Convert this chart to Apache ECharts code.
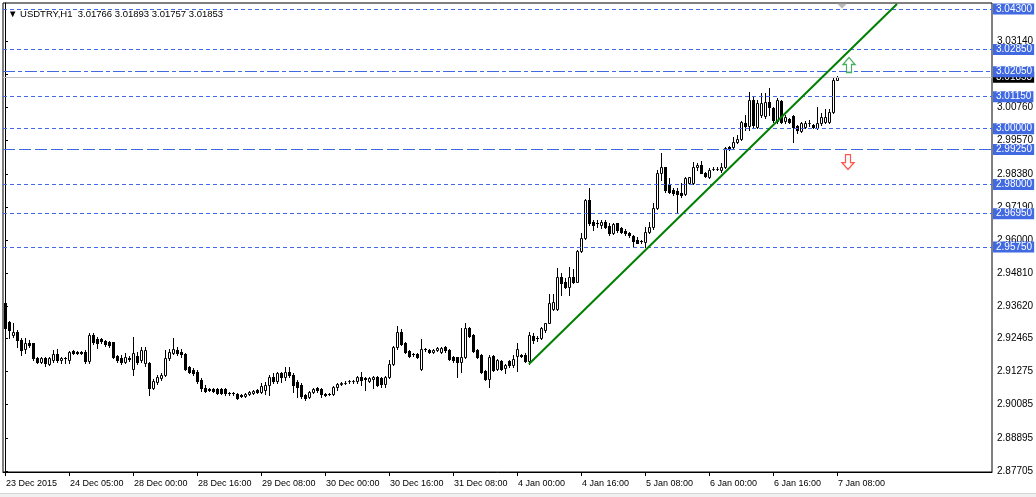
<!DOCTYPE html>
<html>
<head>
<meta charset="utf-8">
<script src="https://cdn.jsdelivr.net/npm/echarts@6/dist/echarts.min.js"></script>
<style>html,body{margin:0;padding:0;background:#fff}#c{width:1036px;height:497px}</style>
</head>
<body>
<div id="c"></div>
<script>
// ---- data ----
const symbolName = 'USDTRY,H1';
// [open, close, low, high] per hourly bar
const candles = [
[2.9374,2.9285,2.9277,2.9385],[2.9306,2.9277,2.9249,2.9310],[2.9259,2.9270,2.9252,2.9302],[2.9270,2.9242,2.9216,2.9277],
[2.9242,2.9206,2.9188,2.9249],[2.9209,2.9231,2.9195,2.9249],[2.9231,2.9224,2.9216,2.9242],[2.9231,2.9177,2.9170,2.9231],
[2.9177,2.9162,2.9159,2.9180],[2.9162,2.9177,2.9159,2.9180],[2.9177,2.9159,2.9148,2.9180],[2.9155,2.9177,2.9152,2.9180],
[2.9170,2.9191,2.9162,2.9206],[2.9191,2.9170,2.9162,2.9209],[2.9170,2.9177,2.9159,2.9180],[2.9177,2.9175,2.9159,2.9180],
[2.9170,2.9198,2.9159,2.9202],[2.9202,2.9195,2.9191,2.9206],[2.9198,2.9195,2.9191,2.9202],[2.9198,2.9195,2.9191,2.9202],
[2.9198,2.9166,2.9159,2.9206],[2.9166,2.9259,2.9159,2.9267],[2.9259,2.9234,2.9227,2.9267],[2.9245,2.9231,2.9213,2.9252],
[2.9245,2.9238,2.9231,2.9249],[2.9238,2.9227,2.9220,2.9242],[2.9234,2.9224,2.9216,2.9238],[2.9234,2.9180,2.9177,2.9234],
[2.9184,2.9170,2.9162,2.9188],[2.9177,2.9162,2.9155,2.9188],[2.9162,2.9180,2.9159,2.9195],[2.9177,2.9173,2.9166,2.9184],
[2.9137,2.9195,2.9116,2.9252],[2.9184,2.9162,2.9155,2.9198],[2.9170,2.9206,2.9162,2.9216],[2.9159,2.9206,2.9148,2.9216],
[2.9159,2.9069,2.9044,2.9162],[2.9069,2.9094,2.9065,2.9101],[2.9091,2.9109,2.9083,2.9116],[2.9105,2.9116,2.9098,2.9123],
[2.9116,2.9177,2.9112,2.9206],[2.9177,2.9198,2.9170,2.9209],[2.9195,2.9209,2.9191,2.9249],[2.9206,2.9195,2.9188,2.9216],
[2.9198,2.9191,2.9180,2.9209],[2.9191,2.9137,2.9134,2.9195],[2.9145,2.9127,2.9123,2.9148],[2.9134,2.9123,2.9116,2.9141],
[2.9127,2.9094,2.9087,2.9134],[2.9098,2.9069,2.9058,2.9105],[2.9069,2.9058,2.9055,2.9080],[2.9065,2.9062,2.9058,2.9069],
[2.9065,2.9058,2.9055,2.9069],[2.9065,2.9051,2.9047,2.9069],[2.9065,2.9051,2.9047,2.9069],[2.9065,2.9051,2.9044,2.9069],
[2.9051,2.9049,2.9044,2.9055],[2.9051,2.9049,2.9044,2.9055],[2.9047,2.9033,2.9029,2.9051],[2.9044,2.9040,2.9037,2.9047],
[2.9040,2.9047,2.9037,2.9051],[2.9047,2.9055,2.9044,2.9058],[2.9051,2.9058,2.9047,2.9062],[2.9062,2.9055,2.9051,2.9065],
[2.9055,2.9076,2.9051,2.9087],[2.9062,2.9080,2.9047,2.9091],[2.9080,2.9109,2.9044,2.9116],[2.9109,2.9094,2.9087,2.9123],
[2.9094,2.9123,2.9087,2.9127],[2.9123,2.9109,2.9091,2.9127],[2.9109,2.9127,2.9098,2.9145],[2.9127,2.9116,2.9109,2.9145],
[2.9116,2.9080,2.9055,2.9123],[2.9091,2.9073,2.9037,2.9098],[2.9080,2.9040,2.9033,2.9087],[2.9044,2.9033,2.9026,2.9047],
[2.9037,2.9055,2.9033,2.9058],[2.9055,2.9065,2.9051,2.9069],[2.9069,2.9062,2.9055,2.9073],[2.9065,2.9047,2.9037,2.9069],
[2.9047,2.9044,2.9040,2.9049],[2.9047,2.9046,2.9044,2.9049],[2.9047,2.9073,2.9044,2.9076],[2.9073,2.9083,2.9062,2.9087],
[2.9083,2.9085,2.9080,2.9091],[2.9087,2.9088,2.9083,2.9094],[2.9094,2.9095,2.9087,2.9098],[2.9093,2.9094,2.9087,2.9098],
[2.9094,2.9109,2.9087,2.9112],[2.9109,2.9098,2.9080,2.9127],[2.9103,2.9102,2.9062,2.9109],[2.9094,2.9105,2.9091,2.9109],
[2.9101,2.9109,2.9069,2.9112],[2.9109,2.9080,2.9076,2.9112],[2.9105,2.9083,2.9073,2.9109],[2.9083,2.9109,2.9073,2.9112],
[2.9109,2.9155,2.9105,2.9170],[2.9155,2.9216,2.9152,2.9220],[2.9216,2.9270,2.9209,2.9292],[2.9270,2.9227,2.9224,2.9281],
[2.9231,2.9198,2.9195,2.9234],[2.9202,2.9184,2.9180,2.9206],[2.9191,2.9189,2.9184,2.9195],[2.9191,2.9180,2.9177,2.9195],
[2.9137,2.9209,2.9134,2.9245],[2.9209,2.9208,2.9202,2.9213],[2.9206,2.9198,2.9195,2.9209],[2.9198,2.9206,2.9195,2.9209],
[2.9206,2.9213,2.9202,2.9216],[2.9198,2.9213,2.9195,2.9216],[2.9216,2.9206,2.9198,2.9220],[2.9206,2.9173,2.9170,2.9209],
[2.9180,2.9170,2.9162,2.9184],[2.9180,2.9162,2.9109,2.9180],[2.9162,2.9180,2.9127,2.9285],[2.9180,2.9285,2.9177,2.9302],
[2.9285,2.9256,2.9252,2.9288],[2.9259,2.9202,2.9198,2.9263],[2.9206,2.9180,2.9177,2.9209],[2.9188,2.9127,2.9123,2.9191],
[2.9130,2.9101,2.9098,2.9134],[2.9101,2.9180,2.9073,2.9188],[2.9184,2.9134,2.9130,2.9188],[2.9137,2.9170,2.9134,2.9173],
[2.9166,2.9137,2.9134,2.9170],[2.9141,2.9152,2.9123,2.9155],[2.9166,2.9152,2.9145,2.9170],[2.9152,2.9173,2.9145,2.9188],
[2.9184,2.9209,2.9130,2.9231],[2.9188,2.9184,2.9180,2.9191],[2.9188,2.9166,2.9162,2.9195],[2.9166,2.9259,2.9155,2.9270],
[2.9256,2.9242,2.9231,2.9267],[2.9249,2.9247,2.9238,2.9256],[2.9249,2.9285,2.9245,2.9288],[2.9277,2.9302,2.9270,2.9302],
[2.9302,2.9374,2.9302,2.9407],[2.9353,2.9378,2.9349,2.9407],[2.9353,2.9467,2.9349,2.9500],[2.9467,2.9446,2.9403,2.9482],
[2.9450,2.9432,2.9428,2.9464],[2.9432,2.9467,2.9403,2.9503],[2.9467,2.9450,2.9446,2.9496],[2.9450,2.9561,2.9450,2.9565],
[2.9561,2.9608,2.9557,2.9626],[2.9608,2.9744,2.9604,2.9748],[2.9744,2.9661,2.9654,2.9787],[2.9665,2.9654,2.9636,2.9672],
[2.9662,2.9661,2.9647,2.9672],[2.9654,2.9665,2.9644,2.9672],[2.9665,2.9647,2.9644,2.9672],[2.9651,2.9626,2.9618,2.9661],
[2.9626,2.9658,2.9622,2.9661],[2.9661,2.9636,2.9629,2.9661],[2.9643,2.9629,2.9626,2.9647],[2.9633,2.9626,2.9618,2.9640],
[2.9626,2.9618,2.9611,2.9629],[2.9615,2.9597,2.9575,2.9618],[2.9600,2.9590,2.9590,2.9611],[2.9597,2.9595,2.9590,2.9600],
[2.9593,2.9629,2.9575,2.9647],[2.9629,2.9647,2.9626,2.9665],[2.9647,2.9715,2.9640,2.9733],[2.9715,2.9841,2.9711,2.9852],
[2.9841,2.9862,2.9816,2.9913],[2.9862,2.9780,2.9773,2.9862],[2.9798,2.9773,2.9769,2.9823],[2.9780,2.9769,2.9762,2.9787],
[2.9776,2.9766,2.9697,2.9787],[2.9769,2.9762,2.9755,2.9805],[2.9766,2.9823,2.9762,2.9827],[2.9805,2.9827,2.9802,2.9827],
[2.9805,2.9862,2.9802,2.9880],[2.9862,2.9870,2.9852,2.9877],[2.9870,2.9841,2.9841,2.9884],[2.9841,2.9830,2.9827,2.9844],
[2.9827,2.9852,2.9823,2.9859],[2.9855,2.9856,2.9852,2.9862],[2.9856,2.9857,2.9852,2.9862],[2.9852,2.9862,2.9844,2.9877],
[2.9862,2.9931,2.9859,2.9934],[2.9934,2.9931,2.9924,2.9938],[2.9934,2.9952,2.9931,2.9970],[2.9952,2.9963,2.9948,2.9977],
[2.9963,3.0024,2.9959,3.0028],[3.0020,3.0010,2.9995,3.0049],[3.0010,3.0103,2.9995,3.0132],[3.0103,3.0013,3.0006,3.0114],
[3.0006,3.0092,3.0002,3.0103],[3.0049,3.0092,3.0042,3.0128],[3.0046,3.0096,3.0038,3.0128],[3.0096,3.0078,3.0049,3.0146],
[3.0074,3.0031,3.0024,3.0078],[3.0028,3.0103,3.0020,3.0110],[3.0099,3.0024,3.0020,3.0103],[3.0028,3.0042,3.0020,3.0049],
[3.0035,3.0024,3.0020,3.0038],[3.0046,3.0006,2.9952,3.0049],[3.0010,2.9995,2.9984,3.0013],[2.9992,3.0020,2.9988,3.0024],
[3.0006,3.0020,3.0002,3.0028],[3.0020,3.0021,3.0010,3.0031],[3.0013,3.0006,3.0002,3.0017],[3.0002,3.0020,2.9999,3.0078],
[3.0020,3.0042,3.0013,3.0056],[3.0024,3.0042,3.0020,3.0071],[3.0024,3.0060,3.0020,3.0071],[3.0060,3.0175,3.0056,3.0182],
[3.01766,3.01853,3.01757,3.01893]
];
// x-axis tick labels every 16 bars
const tickIndex = [0,16,32,48,64,80,96,112,128,144,160,176,192,208];
const tickLabels = ['23 Dec 2015','24 Dec 05:00','28 Dec 00:00','28 Dec 16:00','29 Dec 08:00','30 Dec 00:00','30 Dec 16:00','31 Dec 08:00','4 Jan 00:00','4 Jan 16:00','5 Jan 08:00','6 Jan 00:00','6 Jan 16:00','7 Jan 08:00'];
// price scale tick labels
const priceTicks = [2.87705,2.88895,2.90085,2.91275,2.92465,2.93620,2.94810,2.96000,2.97190,2.98380,2.99570,3.00760,3.01950,3.03140];
// horizontal level lines and their styles
const levels = [3.04300,3.02850,3.02050,3.01150,3.00000,2.99250,2.98000,2.96950,2.95750];
const levelStyles = ['dot','dot','dashdot','dot','dot','dash','dot','dot','dot'];
// trend line anchors [bar index, price]
const trendPoints = [[131,2.9155],[223,3.0448]];
// signal arrows [bar index, price]
const upArrow = [[211,3.0229]];
const downArrow = [[210.75,2.9880]];
const shiftMarker = [[209.25,3.04516]];
const priceMin = 2.87669, priceMax = 3.04516;
const barMin = -0.5, barMax = 246.75;

// ---- chart ----
const FONT = '"Liberation Sans", Arial, sans-serif';
const last = candles[candles.length - 1];
const dashMap = {dot:[4,3], dash:[12,4], dashdot:[12,3,4,3]};
const BLUE = '#4169e1';

function renderCandle(params, api) {
  const i = api.value(0), o = api.value(1), c = api.value(2), l = api.value(3), h = api.value(4);
  const x = Math.round(api.coord([i, o])[0]);
  const yO = Math.round(api.coord([i, o])[1]);
  const yC = Math.round(api.coord([i, c])[1]);
  const yL = Math.round(api.coord([i, l])[1]);
  const yH = Math.round(api.coord([i, h])[1]);
  const top = Math.min(yO, yC), bot = Math.max(yO, yC);
  const children = [{
    type: 'line',
    shape: {x1: x + 0.5, y1: yH, x2: x + 0.5, y2: yL + 1},
    style: {stroke: '#000', lineWidth: 1}
  }];
  if (c >= o) {
    children.push({type: 'rect', shape: {x: x - 0.5, y: top + 0.5, width: 2, height: bot - top},
      style: {fill: '#fff', stroke: '#000', lineWidth: 1}});
  } else {
    children.push({type: 'rect', shape: {x: x - 1, y: top, width: 3, height: Math.max(1, bot - top + 1)},
      style: {fill: '#000'}});
  }
  return {type: 'group', children: children};
}

const arrowUpPath = 'path://M6,0 L12,7 L8.5,7 L8.5,15 L3.5,15 L3.5,7 L0,7 Z';
const arrowDownPath = 'path://M3.5,0 L8.5,0 L8.5,8 L12,8 L6,15 L0,8 L3.5,8 Z';

const chart = echarts.init(document.getElementById('c'), null, {renderer: 'canvas'});
chart.setOption({
  animation: false,
  backgroundColor: '#fff',
  title: {
    text: '▼ ' + symbolName + '  ' + [last[0], last[3], last[2], last[1]].map(v => v.toFixed(5)).join(' '),
    left: 3, top: 4,
    textStyle: {fontFamily: FONT, fontSize: 9.5, fontWeight: 'normal', color: '#000'}
  },
  graphic: [
    {type: 'rect', silent: true, z: -10, shape: {x: 0, y: 493, width: 1036, height: 4}, style: {fill: '#f0f0f0'}},
    {type: 'line', silent: true, z: -9, shape: {x1: 0, y1: 493.5, x2: 1036, y2: 493.5}, style: {stroke: '#d6d6d6', lineWidth: 1}}
  ],
  grid: {left: 3, right: 44, top: 3, bottom: 25, show: true, borderColor: '#000', borderWidth: 1,
    backgroundColor: '#fff', containLabel: false, outerBoundsMode: 'none'},
  xAxis: {
    type: 'value', min: barMin, max: barMax,
    axisLine: {show: true, lineStyle: {color: '#000'}},
    axisTick: {show: true, length: 4, customValues: tickIndex, lineStyle: {color: '#000'}},
    axisLabel: {customValues: tickIndex, formatter: v => tickLabels[tickIndex.indexOf(v)] || '',
      align: 'left', margin: 7, padding: [0, 0, 0, 1], color: '#000', fontFamily: FONT, fontSize: 9},
    splitLine: {show: false}
  },
  yAxis: {
    type: 'value', position: 'right', min: priceMin, max: priceMax,
    axisLine: {show: true, lineStyle: {color: '#000'}},
    axisTick: {show: true, length: 3, customValues: priceTicks, lineStyle: {color: '#000'}},
    axisLabel: {customValues: priceTicks, formatter: v => v.toFixed(5), margin: 5,
      color: '#000', fontFamily: FONT, fontSize: 10},
    splitLine: {show: false}
  },
  series: [
    {
      type: 'custom', z: 2, clip: true,
      renderItem: renderCandle,
      encode: {x: 0, y: [1, 2, 3, 4]},
      data: candles.map((r, i) => [i, r[0], r[1], r[2], r[3]])
    },
    {
      type: 'line', z: 3, data: [],
      markLine: {
        silent: true, symbol: 'none', animation: false, precision: 5,
        lineStyle: {color: '#c0c0c0', width: 1, type: 'solid'},
        label: {show: true, position: 'end', distance: 1, formatter: p => Number(p.value).toFixed(5),
          backgroundColor: '#000', color: '#fff', padding: [1, 2, 0, 3], fontFamily: FONT, fontSize: 10},
        data: [{yAxis: last[1]}]
      }
    },
    {
      type: 'line', z: 4, data: [],
      markLine: {
        silent: true, symbol: 'none', animation: false, precision: 5,
        label: {show: true, position: 'end', distance: 1, formatter: p => Number(p.value).toFixed(5),
          backgroundColor: BLUE, color: '#fff', padding: [1, 2, 0, 3], fontFamily: FONT, fontSize: 10},
        data: levels.map((v, k) => ({yAxis: v, lineStyle: {color: BLUE, width: 1, type: dashMap[levelStyles[k]]}}))
      }
    },
    {
      type: 'line', z: 5, data: trendPoints, showSymbol: false, clip: true,
      lineStyle: {color: '#008000', width: 2}
    },
    {
      type: 'scatter', z: 6, data: upArrow, symbol: arrowUpPath, symbolSize: [12, 15],
      itemStyle: {color: '#fff', borderColor: '#1a9a3a', borderWidth: 1.3}
    },
    {
      type: 'scatter', z: 6, data: downArrow, symbol: arrowDownPath, symbolSize: [12, 15],
      itemStyle: {color: '#fff', borderColor: '#ff2a1a', borderWidth: 1.3}
    },
    {
      type: 'scatter', z: 6, data: shiftMarker, symbol: 'triangle', symbolRotate: 180,
      symbolSize: [10, 5], symbolOffset: [0, 3], clip: false,
      itemStyle: {color: '#a8a8a8'}
    }
  ]
});
</script>
</body>
</html>
